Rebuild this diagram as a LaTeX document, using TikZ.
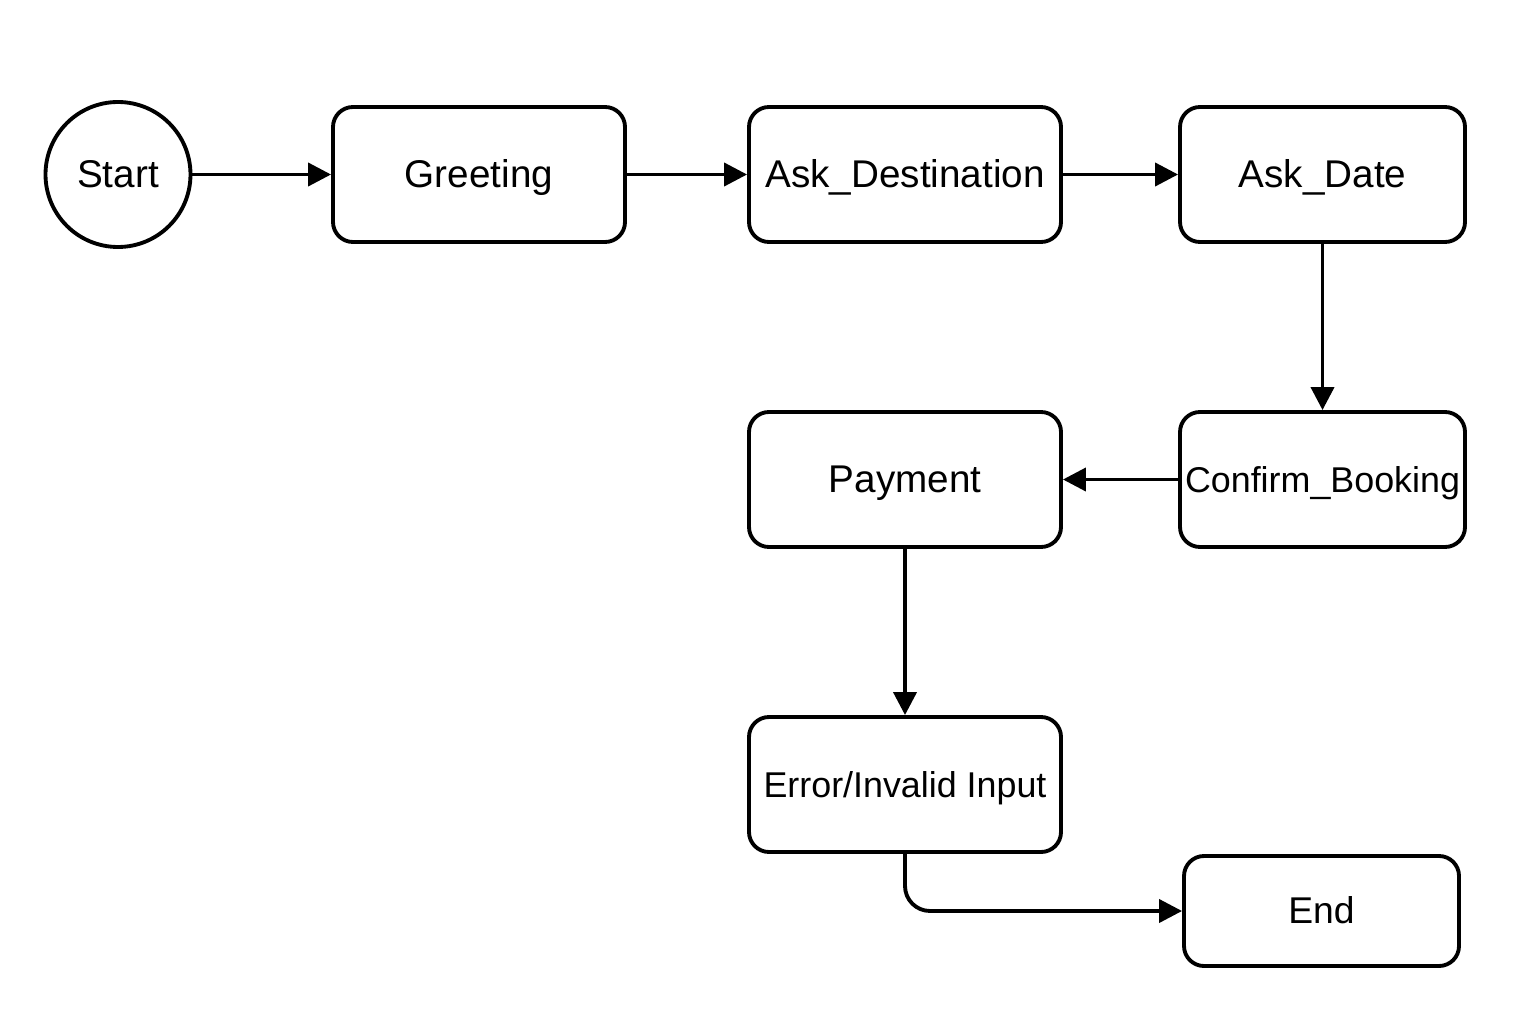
\documentclass[tikz,border=0pt]{standalone}
\usepackage{fontspec}
\setmainfont{Liberation Sans}
\usetikzlibrary{arrows.meta}

\tikzset{
  state/.style={draw, line width=1.1pt, rounded corners=0.2cm, minimum height=1.35cm, inner sep=0pt, text height=0.72em, text depth=0pt, font=\fontsize{11}{13}\selectfont},
  flow/.style={line width=1.1pt, -{Triangle[length=0.23cm, width=0.23cm]}}
}

\begin{document}
\begin{tikzpicture}
  \useasboundingbox (0,0) rectangle (15.36,10.24);
  \node[draw, circle, line width=1.1pt, minimum size=1.45cm, inner sep=0pt, font=\fontsize{11}{13}\selectfont] (start) at (1.18,8.495) {Start};
  \node[state, minimum width=2.92cm] (greeting) at (4.79,8.495) {Greeting};
  \node[state, minimum width=3.12cm] (askdest) at (9.05,8.495) {Ask\_Destination};
  \node[state, minimum width=2.85cm] (askdate) at (13.225,8.495) {Ask\_Date};
  \node[state, minimum width=2.85cm, font=\fontsize{10.2}{12}\selectfont] (confirm) at (13.225,5.445) {Confirm\_Booking};
  \node[state, minimum width=3.12cm] (payment) at (9.05,5.445) {Payment};
  \node[state, minimum width=3.12cm, font=\fontsize{10.2}{12}\selectfont] (error) at (9.05,2.395) {Error/Invalid Input};
  \node[state, minimum width=2.75cm, minimum height=1.1cm, font=\fontsize{10.6}{12}\selectfont] (end) at (13.215,1.13) {End};
  \draw[flow] (start) -- (greeting);
  \draw[flow] (greeting) -- (askdest);
  \draw[flow] (askdest) -- (askdate);
  \draw[flow] (askdate) -- (confirm);
  \draw[flow] (confirm) -- (payment);
  \draw[flow] (payment) -- (error);
  \draw[flow, rounded corners=0.25cm] (error.south) |- (end.west);
\end{tikzpicture}
\end{document}
